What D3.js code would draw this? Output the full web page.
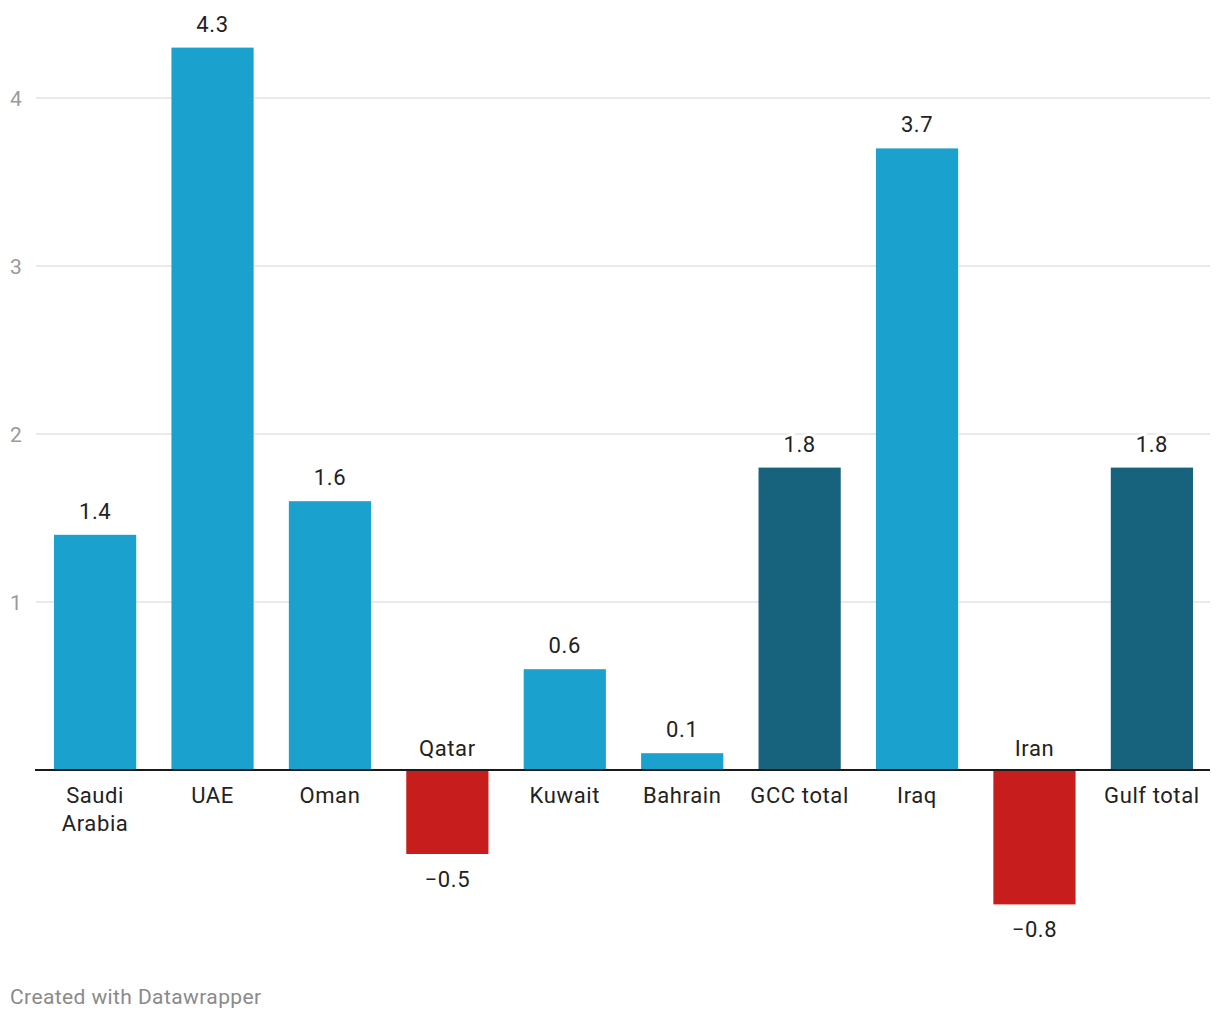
<!DOCTYPE html>
<html><head><meta charset="utf-8">
<script src="https://cdn.jsdelivr.net/npm/d3@7"></script>
<style>
body{margin:0;background:#fff;font-family:Roboto,"Noto Sans",sans-serif;}
</style></head>
<body><svg id="c" width="1220" height="1020"></svg>
<script>
const categories = ["Saudi Arabia","UAE","Oman","Qatar","Kuwait","Bahrain","GCC total","Iraq","Iran","Gulf total"];
const values = [1.4,4.3,1.6,-0.5,0.6,0.1,1.8,3.7,-0.8,1.8];
const kinds = ["country","country","country","country","country","country","total","country","country","total"];
const yTicks = [1,2,3,4];
const colors = {pos:"#1aa1ce", neg:"#c71e1d", total:"#17627d"};

const svg = d3.select("#c");
const x = d3.scaleBand().domain(categories).range([36.4,1210.6]).paddingInner(0.3).paddingOuter(0.15);
const y = d3.scaleLinear().domain([0,4]).range([770,98]);

// grid
svg.append("g").selectAll("line").data(yTicks).join("line")
  .attr("x1",36).attr("x2",1210).attr("y1",d=>y(d)).attr("y2",d=>y(d))
  .attr("stroke","#e3e3e3").attr("stroke-width",1.5);
svg.append("g").selectAll("text").data(yTicks).join("text")
  .attr("x",10).attr("y",d=>y(d)+8).text(d=>d)
  .attr("font-size",21).attr("letter-spacing",0.5).attr("fill","#9a9a9a");

// bars
svg.append("g").selectAll("rect").data(categories).join("rect")
  .attr("x",d=>x(d)).attr("width",x.bandwidth())
  .attr("y",(d,i)=>Math.min(y(values[i]),y(0)))
  .attr("height",(d,i)=>Math.abs(y(values[i])-y(0)))
  .attr("fill",(d,i)=>kinds[i]==="total"?colors.total:(values[i]<0?colors.neg:colors.pos));

// baseline
svg.append("line").attr("x1",35).attr("x2",1210).attr("y1",y(0)).attr("y2",y(0))
  .attr("stroke","#1a1a1a").attr("stroke-width",2);

// value labels
const fmt = v => v<0 ? "\u2212"+Math.abs(v).toFixed(1) : v.toFixed(1);
svg.append("g").selectAll("text").data(categories).join("text")
  .attr("x",d=>x(d)+x.bandwidth()/2)
  .attr("y",(d,i)=>values[i]>=0 ? y(values[i])-16 : y(values[i])+33)
  .attr("text-anchor","middle").attr("font-size",22).attr("letter-spacing",0.6).attr("fill","#222")
  .attr("stroke","#fff").attr("stroke-width",6).attr("paint-order","stroke")
  .text((d,i)=>fmt(values[i]));

// category labels
const cl = svg.append("g").selectAll("text").data(categories).join("text")
  .attr("text-anchor","middle").attr("font-size",22).attr("letter-spacing",0.6).attr("fill","#222")
  .attr("stroke","#fff").attr("stroke-width",6).attr("paint-order","stroke");
cl.each(function(d,i){
  const t = d3.select(this);
  const cx = x(d)+x.bandwidth()/2;
  let lines;
  if (values[i] < 0) { lines=[d]; t.attr("y", y(0)-14); }
  else { lines = d==="Saudi Arabia" ? ["Saudi","Arabia"] : [d]; t.attr("y", y(0)+33); }
  lines.forEach((l,k)=>t.append("tspan").attr("x",cx).attr("dy",k?28:0).text(l));
});

svg.append("text").attr("x",10).attr("y",1004).attr("font-size",21).attr("letter-spacing",0.4).attr("fill","#8a8a8a")
  .text("Created with Datawrapper");
</script></body></html>
